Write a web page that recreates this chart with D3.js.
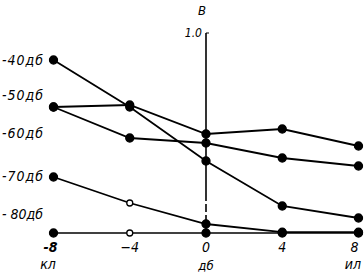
<!DOCTYPE html>
<html>
<head>
<meta charset="utf-8">
<script src="https://cdn.jsdelivr.net/npm/d3@7"></script>
<style>
  body { margin: 0; background: #fff; }
  text { font-family: "DejaVu Sans Condensed", "DejaVu Sans", sans-serif; font-style: oblique; fill: #000; }
</style>
</head>
<body>
<script>
const w = 364;
const h = 274;

// x positions (mismatch, дб)
const xs = [-8, -4, 0, 4, 8];
const xTickLabels = ["-8", "\u22124", "0", "4", "8"];

// relative amplitude B for each curve
const curveA = [0.865, 0.63, 0.36, 0.135, 0.075];
const curveB = [0.63, 0.64, 0.495, 0.52, 0.435];
const curveC = [0.63, 0.475, 0.45, 0.375, 0.335];
const curveD = [0.28, 0.15, 0.045, 0.004, 0.004];
const curveE = [0, 0, 0, 0, 0];
const curves = [curveA, curveB, curveC, curveD, curveE];

// points drawn hollow: [curve index, point index]
const openPoints = [[3, 1], [4, 1]];

// level labels on the left and where they sit on the B scale
const levelLabels = ["-40\u0434\u0431", "-50\u0434\u0431", "-60\u0434\u0431", "-70\u0434\u0431", "- 80\u0434\u0431"];
const levelValues = [0.865, 0.69, 0.5, 0.285, 0.095];

const svg = d3.select("body")
              .append("svg")
              .attr("width", w)
              .attr("height", h);

const x = d3.scaleLinear()
            .domain([-8, 8])
            .range([53.5, 358.5]);

const y = d3.scaleLinear()
            .domain([0, 1])
            .range([233, 33]);

// vertical B axis: solid, then dashed near the bottom
svg.append("line")
   .attr("x1", x(0)).attr("x2", x(0))
   .attr("y1", y(1)).attr("y2", y(0.2))
   .attr("stroke", "#000").attr("stroke-width", 1.6);
svg.append("line")
   .attr("x1", x(0)).attr("x2", x(0))
   .attr("y1", y(0.2)).attr("y2", y(0))
   .attr("stroke", "#000").attr("stroke-width", 1.6)
   .attr("stroke-dasharray", "8,3");
svg.append("line")
   .attr("x1", x(0)).attr("x2", x(0) + 3)
   .attr("y1", y(1)).attr("y2", y(1))
   .attr("stroke", "#000").attr("stroke-width", 1);

svg.append("text")
   .attr("x", x(0) - 4).attr("y", y(1) + 4)
   .attr("text-anchor", "end")
   .attr("font-size", 12)
   .text("1.0");
svg.append("text")
   .attr("x", x(0) - 4).attr("y", 15)
   .attr("text-anchor", "middle")
   .attr("font-size", 13)
   .text("B");

const line = d3.line()
               .x((d, i) => x(xs[i]))
               .y(d => y(d));

curves.forEach((c, ci) => {
  svg.append("path")
     .datum(c)
     .attr("fill", "none")
     .attr("stroke", "#000")
     .attr("stroke-width", ci === 4 ? 1.6 : 1.8)
     .attr("d", line);
});

curves.forEach((c, ci) => {
  svg.selectAll(null)
     .data(c)
     .enter()
     .append("circle")
     .attr("cx", (d, i) => x(xs[i]))
     .attr("cy", d => y(d))
     .attr("r", (d, i) => openPoints.some(p => p[0] === ci && p[1] === i) ? 3 : 4)
     .attr("fill", (d, i) => openPoints.some(p => p[0] === ci && p[1] === i) ? "#fff" : "#000")
     .attr("stroke", "#000")
     .attr("stroke-width", 1.3);
});

// x tick labels
svg.selectAll(null)
   .data(xs)
   .enter()
   .append("text")
   .attr("x", d => x(d))
   .attr("y", 252)
   .attr("text-anchor", (d, i) => i === 0 ? "end" : (i === xs.length - 1 ? "end" : "middle"))
   .attr("dx", (d, i) => i === 0 ? 4 : 0)
   .attr("font-size", 14)
   .attr("font-weight", (d, i) => i === 0 ? "bold" : "normal")
   .text((d, i) => xTickLabels[i]);

svg.append("text").attr("x", 48).attr("y", 269).attr("text-anchor", "middle")
   .attr("font-size", 14).text("\u043a\u043b");
svg.append("text").attr("x", x(0)).attr("y", 270).attr("text-anchor", "middle")
   .attr("font-size", 13).text("\u0434\u0431");
svg.append("text").attr("x", 361).attr("y", 269).attr("text-anchor", "end")
   .attr("font-size", 14).text("\u0438\u043b");

// level labels
svg.selectAll(null)
   .data(levelValues)
   .enter()
   .append("text")
   .attr("x", 2)
   .attr("y", d => y(d) + 5)
   .attr("font-size", 14)
   .attr("textLength", 41)
   .text((d, i) => levelLabels[i]);
</script>
</body>
</html>
